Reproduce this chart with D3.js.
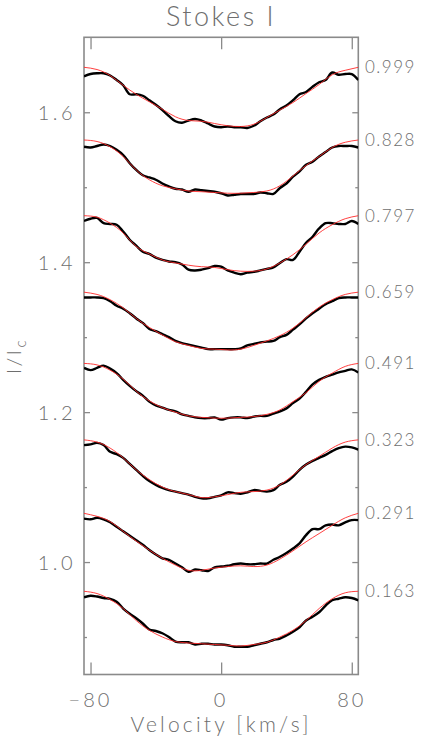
<!DOCTYPE html>
<html>
<head>
<meta charset="utf-8">
<script src="https://cdn.jsdelivr.net/npm/d3@7"></script>
<style>
  html, body { margin: 0; padding: 0; background: #fff; }
  svg { display: block; }
  text { font-family: "Lato", "Liberation Sans", sans-serif; font-weight: 300; fill: #6e6e6e; }
</style>
</head>
<body>
<svg id="chart" width="442" height="750"></svg>
<script>
// ---------- data ----------
const title = "Stokes I";
const xLabel = "Velocity [km/s]";
const xTicks = [-80, 0, 80];
const yTicksMajor = [1.0, 1.2, 1.4, 1.6];
const yTicksMinor = [0.9, 1.1, 1.3, 1.5];
const phases = ["0.999", "0.828", "0.797", "0.659", "0.491", "0.323", "0.291", "0.163"];
const offsets = [0.660, 0.563, 0.462, 0.360, 0.265, 0.163, 0.065, -0.039];

const velObs = [-84,-80,-76,-72,-68,-64,-60,-56,-52,-48,-44,-40,-36,-32,-28,-24,-20,-16,-12,-8,-4,
                0,4,8,12,16,20,24,28,32,36,40,44,48,52,56,60,64,68,72,76,80,84];
const velFit = [-84,-76,-68,-60,-52,-44,-36,-28,-20,-12,-4,4,12,20,28,36,44,52,60,68,76,84];

const obs0999 = [0.988,0.991,0.992,0.992,0.989,0.983,0.976,0.964,0.964,0.962,0.956,0.950,0.943,0.935,0.928,0.926,0.929,0.931,0.929,0.925,0.921,0.920,0.921,0.920,0.920,0.919,0.922,0.928,0.933,0.937,0.944,0.949,0.956,0.964,0.967,0.974,0.980,0.983,0.993,0.990,0.991,0.991,0.983];
const obs0828 = [0.991,0.990,0.992,0.994,0.992,0.987,0.980,0.969,0.960,0.953,0.950,0.947,0.942,0.938,0.935,0.934,0.931,0.934,0.933,0.932,0.931,0.929,0.926,0.927,0.928,0.928,0.928,0.930,0.929,0.928,0.936,0.942,0.951,0.958,0.967,0.971,0.978,0.984,0.990,0.992,0.992,0.992,0.990];
const obs0797 = [0.993,0.996,0.997,0.990,0.989,0.988,0.979,0.968,0.960,0.952,0.949,0.944,0.941,0.939,0.938,0.935,0.928,0.927,0.928,0.930,0.933,0.932,0.927,0.924,0.922,0.924,0.925,0.927,0.929,0.931,0.937,0.942,0.941,0.952,0.964,0.972,0.983,0.990,0.990,0.989,0.989,0.993,0.989];
const obs0659 = [0.993,0.993,0.993,0.992,0.988,0.982,0.978,0.972,0.965,0.959,0.951,0.948,0.944,0.940,0.935,0.932,0.930,0.928,0.926,0.924,0.924,0.924,0.924,0.924,0.925,0.929,0.931,0.933,0.934,0.935,0.940,0.943,0.950,0.957,0.965,0.972,0.978,0.984,0.988,0.992,0.993,0.993,0.993];
const obs0491 = [0.994,0.991,0.994,0.997,0.993,0.987,0.978,0.970,0.963,0.957,0.949,0.944,0.941,0.938,0.936,0.932,0.930,0.928,0.927,0.927,0.928,0.925,0.927,0.928,0.928,0.927,0.929,0.930,0.930,0.933,0.936,0.940,0.947,0.953,0.962,0.972,0.978,0.982,0.985,0.988,0.990,0.992,0.988];
const obs0323 = [0.993,0.994,0.996,0.993,0.984,0.981,0.976,0.968,0.960,0.952,0.945,0.940,0.936,0.933,0.931,0.929,0.927,0.924,0.922,0.922,0.924,0.926,0.930,0.929,0.928,0.930,0.933,0.932,0.931,0.933,0.940,0.944,0.951,0.960,0.967,0.972,0.976,0.980,0.985,0.989,0.991,0.990,0.987];
const obs0291 = [0.993,0.992,0.994,0.992,0.988,0.982,0.976,0.970,0.964,0.958,0.951,0.945,0.940,0.938,0.933,0.928,0.922,0.925,0.924,0.923,0.928,0.929,0.930,0.932,0.933,0.932,0.932,0.933,0.933,0.938,0.942,0.947,0.953,0.960,0.971,0.979,0.979,0.984,0.985,0.984,0.988,0.991,0.991];
const obs0163 = [0.992,0.994,0.993,0.991,0.990,0.986,0.977,0.970,0.964,0.957,0.949,0.947,0.944,0.939,0.933,0.932,0.932,0.929,0.930,0.930,0.929,0.929,0.928,0.926,0.926,0.926,0.928,0.930,0.932,0.935,0.937,0.941,0.946,0.952,0.961,0.966,0.972,0.981,0.988,0.990,0.992,0.991,0.988];

const fit0999 = [1.000,0.997,0.989,0.976,0.964,0.954,0.944,0.934,0.929,0.928,0.925,0.922,0.921,0.924,0.933,0.943,0.953,0.965,0.977,0.990,0.996,1.000];
const fit0828 = [1.000,0.998,0.991,0.978,0.960,0.947,0.939,0.935,0.932,0.931,0.930,0.929,0.929,0.930,0.932,0.939,0.952,0.966,0.978,0.990,0.997,1.000];
const fit0797 = [1.000,0.998,0.990,0.977,0.959,0.949,0.941,0.937,0.934,0.932,0.931,0.928,0.926,0.926,0.929,0.937,0.948,0.962,0.977,0.988,0.996,1.000];
const fit0659 = [1.000,0.997,0.990,0.979,0.965,0.953,0.943,0.934,0.929,0.925,0.924,0.923,0.924,0.929,0.935,0.942,0.952,0.966,0.980,0.990,0.997,1.000];
const fit0491 = [1.000,0.998,0.991,0.979,0.963,0.950,0.941,0.935,0.930,0.928,0.927,0.927,0.928,0.929,0.932,0.938,0.949,0.961,0.976,0.987,0.996,1.000];
const fit0323 = [1.000,0.997,0.989,0.976,0.960,0.947,0.937,0.931,0.927,0.923,0.924,0.927,0.930,0.931,0.933,0.940,0.953,0.967,0.978,0.989,0.997,1.000];
const fit0291 = [1.000,0.996,0.989,0.976,0.963,0.951,0.940,0.931,0.924,0.924,0.927,0.929,0.930,0.929,0.931,0.939,0.950,0.962,0.973,0.984,0.994,1.000];
const fit0163 = [1.000,0.997,0.989,0.977,0.961,0.948,0.939,0.933,0.931,0.930,0.929,0.928,0.927,0.929,0.932,0.939,0.948,0.961,0.977,0.990,0.998,1.000];

const observed = [obs0999, obs0828, obs0797, obs0659, obs0491, obs0323, obs0291, obs0163];
const fitted = [fit0999, fit0828, fit0797, fit0659, fit0491, fit0323, fit0291, fit0163];

// ---------- layout ----------
const svg = d3.select("#chart");
const L = 84, R = 358.3, T = 37.3, B = 674.5;
const x = d3.scaleLinear().domain([-84, 84]).range([L, R]);
const y = d3.scaleLinear().domain([0.85, 1.70]).range([B, T]);
const axisColor = "#8a8a8a";

svg.append("defs").append("clipPath").attr("id", "plotclip")
  .append("rect").attr("x", L).attr("y", T).attr("width", R - L).attr("height", B - T);

function styleAxis(g) {
  g.select(".domain").remove();
  g.selectAll(".tick line").attr("stroke", axisColor).attr("stroke-width", 1.3);
  g.selectAll(".tick text").remove();
}
svg.append("g").attr("transform", `translate(0,${B})`)
  .call(d3.axisBottom(x).tickValues(xTicks).tickSize(-12)).call(styleAxis);
svg.append("g").attr("transform", `translate(0,${T})`)
  .call(d3.axisTop(x).tickValues(xTicks).tickSize(-12)).call(styleAxis);
svg.append("g").attr("transform", `translate(${L},0)`)
  .call(d3.axisLeft(y).tickValues(yTicksMajor).tickSize(-6)).call(styleAxis);
svg.append("g").attr("transform", `translate(${L},0)`)
  .call(d3.axisLeft(y).tickValues(yTicksMinor).tickSize(-3)).call(styleAxis);
svg.append("g").attr("transform", `translate(${R},0)`)
  .call(d3.axisRight(y).tickValues(yTicksMajor).tickSize(-6)).call(styleAxis);
svg.append("g").attr("transform", `translate(${R},0)`)
  .call(d3.axisRight(y).tickValues(yTicksMinor).tickSize(-3)).call(styleAxis);

svg.append("rect").attr("x", L).attr("y", T).attr("width", R - L).attr("height", B - T)
  .attr("fill", "none").attr("stroke", axisColor).attr("stroke-width", 1.6);

svg.append("g").selectAll("text").data(xTicks).join("text")
  .attr("x", d => x(d)).attr("y", 706.5).attr("text-anchor", "middle")
  .style("font-size", "20px").style("letter-spacing", "3px")
  .text(d => d < 0 ? "\u2212" + Math.abs(d) : String(d));
svg.append("g").selectAll("text").data(yTicksMajor).join("text")
  .attr("x", 76).attr("y", d => y(d) + 7.5).attr("text-anchor", "end")
  .style("font-size", "20px").style("letter-spacing", "3.5px")
  .text(d => d.toFixed(1));

svg.append("text").attr("x", 221).attr("y", 25.7).attr("text-anchor", "middle")
  .style("font-size", "27px").style("letter-spacing", "2.5px").text(title);
svg.append("text").attr("x", 221).attr("y", 732).attr("text-anchor", "middle")
  .style("font-size", "21px").style("letter-spacing", "3.2px").text(xLabel);
const yl = svg.append("text").attr("transform", `translate(21,356) rotate(-90)`)
  .attr("text-anchor", "middle").style("font-size", "20px").style("letter-spacing", "2.5px");
yl.append("tspan").text("I/I");
yl.append("tspan").attr("dy", 5).style("font-size", "15px").text("c");

const plot = svg.append("g").attr("clip-path", "url(#plotclip)");
const lineObs = d3.line().x(d => x(d[0])).y(d => y(d[1])).curve(d3.curveCatmullRom.alpha(0.5));
const lineFit = d3.line().x(d => x(d[0])).y(d => y(d[1])).curve(d3.curveNatural);

observed.forEach((prof, i) => {
  plot.append("path")
    .attr("d", lineObs(prof.map((v, j) => [velObs[j], v + offsets[i]])))
    .attr("fill", "none").attr("stroke", "#000").attr("stroke-width", 2.4)
    .attr("stroke-linejoin", "round");
});
fitted.forEach((prof, i) => {
  plot.append("path")
    .attr("d", lineFit(prof.map((v, j) => [velFit[j], v + offsets[i]])))
    .attr("fill", "none").attr("stroke", "#ff2a2a").attr("stroke-width", 0.9);
});

svg.append("g").selectAll("text").data(phases).join("text")
  .attr("x", 365).attr("y", (d, i) => y(1 + offsets[i]) + 6)
  .style("font-size", "17px").style("letter-spacing", "1.5px")
  .text(d => d);
</script>
</body>
</html>
